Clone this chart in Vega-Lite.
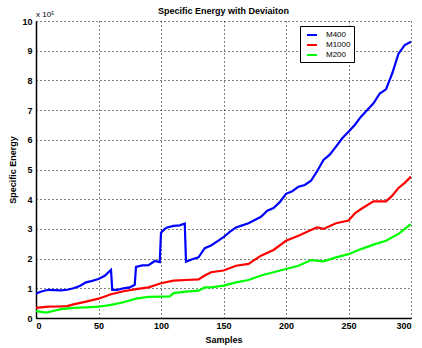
{
  "$schema": "https://vega.github.io/schema/vega-lite/v6.json",
  "width": 375,
  "height": 297,
  "autosize": {"type": "none"},
  "padding": {"left": 36, "top": 21, "right": 11, "bottom": 30},
  "background": "white",
  "config": {
    "font": "Liberation Sans",
    "view": {"stroke": null},
    "axis": {
      "labelFont": "Liberation Sans",
      "labelFontSize": 9,
      "labelFontWeight": "bold",
      "labelColor": "black",
      "labelOverlap": false,
      "titleFont": "Liberation Sans",
      "titleFontSize": 9,
      "titleFontWeight": "bold",
      "titleColor": "black",
      "domainColor": "black",
      "domainWidth": 1.5,
      "ticks": false,
      "gridColor": "black",
      "gridDash": [1, 3],
      "gridOpacity": 1,
      "gridWidth": 1
    }
  },
  "title": {
    "text": "Specific Energy with Deviaiton",
    "fontSize": 9,
    "fontWeight": "bold",
    "color": "black",
    "offset": 2,
    "dy": 7
  },
  "datasets": {
    "energy": [
      {"sample": 0, "series": "M400", "value": 83000},
      {"sample": 5, "series": "M400", "value": 90000},
      {"sample": 10, "series": "M400", "value": 95000},
      {"sample": 15, "series": "M400", "value": 94000},
      {"sample": 20, "series": "M400", "value": 93000},
      {"sample": 25, "series": "M400", "value": 95000},
      {"sample": 30, "series": "M400", "value": 100000},
      {"sample": 35, "series": "M400", "value": 108000},
      {"sample": 40, "series": "M400", "value": 120000},
      {"sample": 45, "series": "M400", "value": 125000},
      {"sample": 50, "series": "M400", "value": 131000},
      {"sample": 55, "series": "M400", "value": 142000},
      {"sample": 59, "series": "M400", "value": 158000},
      {"sample": 60, "series": "M400", "value": 162000},
      {"sample": 61, "series": "M400", "value": 95000},
      {"sample": 65, "series": "M400", "value": 95000},
      {"sample": 70, "series": "M400", "value": 100000},
      {"sample": 75, "series": "M400", "value": 103000},
      {"sample": 79, "series": "M400", "value": 112000},
      {"sample": 80, "series": "M400", "value": 172000},
      {"sample": 85, "series": "M400", "value": 177000},
      {"sample": 90, "series": "M400", "value": 178000},
      {"sample": 95, "series": "M400", "value": 192000},
      {"sample": 99, "series": "M400", "value": 188000},
      {"sample": 100, "series": "M400", "value": 287000},
      {"sample": 103, "series": "M400", "value": 300000},
      {"sample": 105, "series": "M400", "value": 305000},
      {"sample": 110, "series": "M400", "value": 310000},
      {"sample": 115, "series": "M400", "value": 312000},
      {"sample": 119, "series": "M400", "value": 318000},
      {"sample": 120, "series": "M400", "value": 190000},
      {"sample": 125, "series": "M400", "value": 198000},
      {"sample": 130, "series": "M400", "value": 204000},
      {"sample": 135, "series": "M400", "value": 235000},
      {"sample": 140, "series": "M400", "value": 244000},
      {"sample": 145, "series": "M400", "value": 258000},
      {"sample": 150, "series": "M400", "value": 272000},
      {"sample": 155, "series": "M400", "value": 290000},
      {"sample": 160, "series": "M400", "value": 305000},
      {"sample": 165, "series": "M400", "value": 312000},
      {"sample": 170, "series": "M400", "value": 319000},
      {"sample": 175, "series": "M400", "value": 330000},
      {"sample": 180, "series": "M400", "value": 341000},
      {"sample": 185, "series": "M400", "value": 361000},
      {"sample": 190, "series": "M400", "value": 370000},
      {"sample": 195, "series": "M400", "value": 390000},
      {"sample": 200, "series": "M400", "value": 418000},
      {"sample": 205, "series": "M400", "value": 427000},
      {"sample": 210, "series": "M400", "value": 442000},
      {"sample": 215, "series": "M400", "value": 448000},
      {"sample": 220, "series": "M400", "value": 462000},
      {"sample": 225, "series": "M400", "value": 495000},
      {"sample": 230, "series": "M400", "value": 532000},
      {"sample": 235, "series": "M400", "value": 550000},
      {"sample": 240, "series": "M400", "value": 577000},
      {"sample": 245, "series": "M400", "value": 605000},
      {"sample": 250, "series": "M400", "value": 627000},
      {"sample": 255, "series": "M400", "value": 650000},
      {"sample": 260, "series": "M400", "value": 678000},
      {"sample": 265, "series": "M400", "value": 700000},
      {"sample": 270, "series": "M400", "value": 723000},
      {"sample": 275, "series": "M400", "value": 756000},
      {"sample": 280, "series": "M400", "value": 770000},
      {"sample": 285, "series": "M400", "value": 824000},
      {"sample": 290, "series": "M400", "value": 890000},
      {"sample": 295, "series": "M400", "value": 919000},
      {"sample": 300, "series": "M400", "value": 930000},
      {"sample": 0, "series": "M1000", "value": 34000},
      {"sample": 10, "series": "M1000", "value": 38000},
      {"sample": 20, "series": "M1000", "value": 39000},
      {"sample": 25, "series": "M1000", "value": 40000},
      {"sample": 30, "series": "M1000", "value": 46000},
      {"sample": 40, "series": "M1000", "value": 55000},
      {"sample": 50, "series": "M1000", "value": 65000},
      {"sample": 60, "series": "M1000", "value": 80000},
      {"sample": 70, "series": "M1000", "value": 90000},
      {"sample": 80, "series": "M1000", "value": 97000},
      {"sample": 90, "series": "M1000", "value": 103000},
      {"sample": 100, "series": "M1000", "value": 117000},
      {"sample": 110, "series": "M1000", "value": 126000},
      {"sample": 120, "series": "M1000", "value": 128000},
      {"sample": 130, "series": "M1000", "value": 130000},
      {"sample": 135, "series": "M1000", "value": 143000},
      {"sample": 140, "series": "M1000", "value": 154000},
      {"sample": 150, "series": "M1000", "value": 160000},
      {"sample": 160, "series": "M1000", "value": 176000},
      {"sample": 170, "series": "M1000", "value": 182000},
      {"sample": 180, "series": "M1000", "value": 210000},
      {"sample": 190, "series": "M1000", "value": 229000},
      {"sample": 200, "series": "M1000", "value": 260000},
      {"sample": 210, "series": "M1000", "value": 277000},
      {"sample": 220, "series": "M1000", "value": 296000},
      {"sample": 225, "series": "M1000", "value": 305000},
      {"sample": 230, "series": "M1000", "value": 300000},
      {"sample": 240, "series": "M1000", "value": 319000},
      {"sample": 250, "series": "M1000", "value": 328000},
      {"sample": 255, "series": "M1000", "value": 352000},
      {"sample": 260, "series": "M1000", "value": 367000},
      {"sample": 270, "series": "M1000", "value": 393000},
      {"sample": 280, "series": "M1000", "value": 393000},
      {"sample": 285, "series": "M1000", "value": 412000},
      {"sample": 290, "series": "M1000", "value": 438000},
      {"sample": 295, "series": "M1000", "value": 455000},
      {"sample": 300, "series": "M1000", "value": 476000},
      {"sample": 0, "series": "M200", "value": 23000},
      {"sample": 8, "series": "M200", "value": 18000},
      {"sample": 12, "series": "M200", "value": 22000},
      {"sample": 20, "series": "M200", "value": 30000},
      {"sample": 30, "series": "M200", "value": 34000},
      {"sample": 40, "series": "M200", "value": 36000},
      {"sample": 50, "series": "M200", "value": 38000},
      {"sample": 60, "series": "M200", "value": 44000},
      {"sample": 70, "series": "M200", "value": 53000},
      {"sample": 80, "series": "M200", "value": 65000},
      {"sample": 90, "series": "M200", "value": 71000},
      {"sample": 100, "series": "M200", "value": 72000},
      {"sample": 107, "series": "M200", "value": 73000},
      {"sample": 110, "series": "M200", "value": 84000},
      {"sample": 120, "series": "M200", "value": 89000},
      {"sample": 130, "series": "M200", "value": 92000},
      {"sample": 135, "series": "M200", "value": 103000},
      {"sample": 140, "series": "M200", "value": 103000},
      {"sample": 150, "series": "M200", "value": 109000},
      {"sample": 160, "series": "M200", "value": 120000},
      {"sample": 170, "series": "M200", "value": 128000},
      {"sample": 180, "series": "M200", "value": 143000},
      {"sample": 190, "series": "M200", "value": 154000},
      {"sample": 200, "series": "M200", "value": 165000},
      {"sample": 210, "series": "M200", "value": 176000},
      {"sample": 220, "series": "M200", "value": 195000},
      {"sample": 230, "series": "M200", "value": 191000},
      {"sample": 240, "series": "M200", "value": 204000},
      {"sample": 250, "series": "M200", "value": 215000},
      {"sample": 260, "series": "M200", "value": 232000},
      {"sample": 270, "series": "M200", "value": 247000},
      {"sample": 280, "series": "M200", "value": 260000},
      {"sample": 290, "series": "M200", "value": 283000},
      {"sample": 300, "series": "M200", "value": 316000}
    ],
    "exponent": [{"sample": 0, "value": 1000000, "label": "x 10⁵"}]
  },
  "encoding": {
    "x": {
      "field": "sample",
      "type": "quantitative",
      "scale": {"domain": [0, 300], "nice": false, "zero": false},
      "axis": {"title": "Samples", "values": [0, 50, 100, 150, 200, 250, 300], "labelPadding": 3, "titlePadding": 5}
    },
    "y": {
      "field": "value",
      "type": "quantitative",
      "scale": {"domain": [0, 1000000], "nice": false},
      "axis": {
        "title": "Specific Energy",
        "values": [0, 100000, 200000, 300000, 400000, 500000, 600000, 700000, 800000, 900000, 1000000],
        "labelExpr": "format(datum.value / 100000, 'd')",
        "labelOverlap": false,
        "labelBound": false,
        "labelPadding": 4,
        "titlePadding": 4
      }
    }
  },
  "layer": [
    {
      "data": {"name": "energy"},
      "mark": {"type": "line", "strokeWidth": 2.2, "clip": true},
      "encoding": {
        "color": {
          "field": "series",
          "type": "nominal",
          "scale": {"domain": ["M400", "M1000", "M200"], "range": ["#0000ff", "#ff0000", "#00ff00"]},
          "legend": {
            "title": null,
            "orient": "none",
            "legendX": 264,
            "legendY": 5,
            "strokeColor": "black",
            "fillColor": "white",
            "padding": 3,
            "symbolType": "stroke",
            "symbolStrokeWidth": 2,
            "symbolSize": 100,
            "symbolOffset": 3,
            "labelFontSize": 8,
            "labelFont": "Liberation Sans",
            "labelColor": "black",
            "labelOffset": 8,
            "rowPadding": 0
          }
        }
      }
    },
    {
      "data": {"name": "exponent"},
      "mark": {"type": "text", "align": "left", "baseline": "bottom", "dy": -2, "fontSize": 8, "font": "Liberation Sans", "color": "black"},
      "encoding": {
        "text": {"field": "label"}
      }
    }
  ]
}
